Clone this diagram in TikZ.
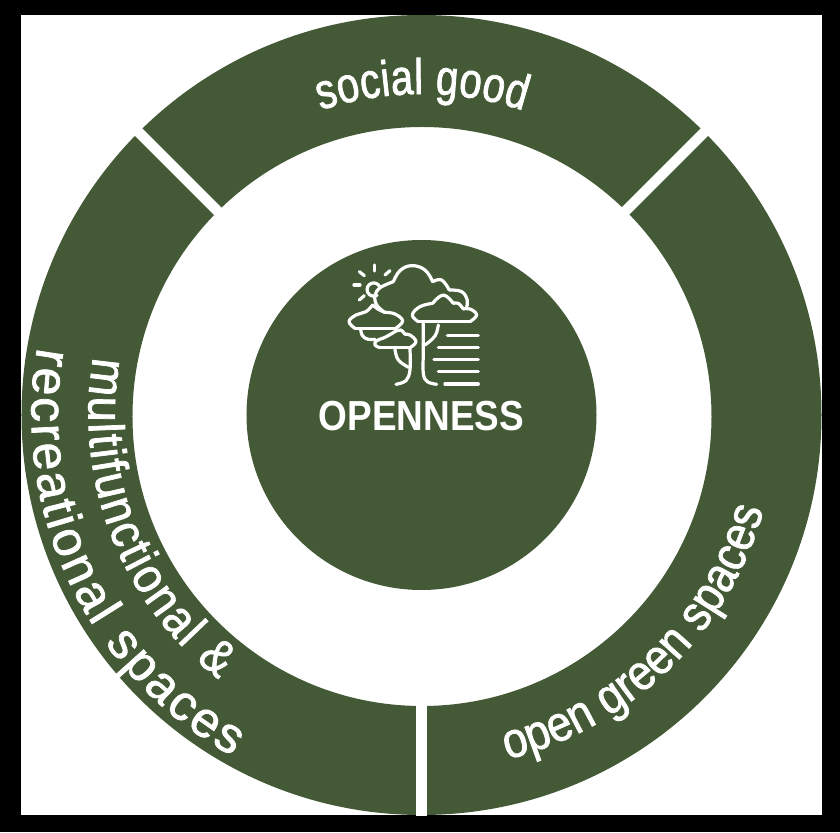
\documentclass[tikz,border=0pt]{standalone}
\usepackage{fontspec}
\usetikzlibrary{decorations.text}
\newfontfamily\dinsoc[FakeStretch=0.80,RawFeature={embolden=1.5}]{Liberation Sans}
\newfontfamily\dinopn[FakeStretch=0.88,RawFeature={embolden=1.5}]{Liberation Sans}
\newfontfamily\dinmul[FakeStretch=0.90,RawFeature={embolden=1.5}]{Liberation Sans}
\newfontfamily\dinrec[FakeStretch=1.00,RawFeature={embolden=1.5}]{Liberation Sans}
\newfontfamily\dinmed[FakeStretch=0.88]{Liberation Sans}
\definecolor{forest}{HTML}{445A36}
\newcommand{\bandtext}[1]{\fontsize{50}{50}\selectfont#1\color{white}}
\tikzset{
  gapline/.style={draw=white,line width=10.5pt},
  icon/.style={draw=white,line width=3.2pt,line cap=round,line join=round},
  curved/.style args={#1}{decorate,decoration={text along path,text align={fit to path},text={#1}}},
}
\begin{document}
\begin{tikzpicture}[x=1pt,y=1pt]
\useasboundingbox (-421.5,415) rectangle (418.5,-417);
\fill[black] (-421.5,415) rectangle (418.5,-417);
\fill[white] (-400.5,400) rectangle (400,-400);
% ring
\fill[forest,even odd rule] (0,0) circle[radius=400] (0.5,-1.5) circle[radius=289.5];
\coordinate (bi) at (-90:285); \coordinate (bo) at (-90:400.5);
\coordinate (li) at (135:285); \coordinate (lo) at (135:400.5);
\coordinate (ri) at (45:285);  \coordinate (ro) at (45:400.5);
\draw[gapline] (bi) -- (bo);
\draw[gapline] (li) -- (lo);
\draw[gapline] (ri) -- (ro);
% centre
\node[circle,fill=forest,minimum size=350pt,inner sep=0pt] (core) at (0,0) {};
\node[text=white,inner sep=0pt,font=\fontsize{42}{42}\selectfont\dinmed\bfseries] (title) at (0,-1) {OPENNESS};
% band labels
\path[curved={|\bandtext{\dinsoc}|social good}] (108.3:321) arc[start angle=108.3,end angle=71.5,radius=321];
\path[curved={|\bandtext{\dinopn}|open green spaces}] (-76:355) arc[start angle=-76,end angle=-15.5,radius=355];
\path[curved={|\bandtext{\dinmul}|multifunctional {\&}}] (170:333) arc[start angle=170,end angle=232.5,radius=333];
\path[curved={|\bandtext{\dinrec}|recreational spaces}] (170:390) arc[start angle=170,end angle=241,radius=390];
% tree icon
\begin{scope}[shift={(-91.5,165)},x=0.3333pt,y=-0.3333pt]
  \draw[icon] (150,112) arc[start angle=-20,end angle=-300,radius=20];
  \draw[icon] (72,105) -- (90,105);
  \draw[icon] (88,150) -- (103,137);
  \draw[icon] (88,65) -- (103,77);
  \draw[icon] (133,45) -- (133,63);
  \draw[icon] (180,62) -- (165,75);
  \draw[icon] plot[smooth,tension=0.6] coordinates {(165,188) (140,165) (135,135) (152,112) (190,95)};
  \draw[icon] plot[smooth,tension=0.7] coordinates {(190,95) (210,62) (245,47) (285,60) (308,95)};
  \draw[icon] plot[smooth,tension=0.7] coordinates {(308,95) (335,90) (358,120)};
  \draw[icon] plot[smooth,tension=0.7] coordinates {(358,120) (395,125) (412,150) (410,170)};
  % right canopy
  \draw[icon] (265,215) -- (420,215);
  \draw[icon] plot[smooth,tension=0.7] coordinates {(420,215) (440,195) (420,177) (400,177)};
  \draw[icon] plot[smooth,tension=0.7] coordinates {(400,177) (385,160) (370,160)};
  \draw[icon] plot[smooth,tension=0.7] coordinates {(370,160) (340,135) (308,160)};
  \draw[icon] plot[smooth,tension=0.7] coordinates {(308,160) (270,170) (247,195) (265,215)};
  \draw[icon] plot[smooth,tension=0.6] coordinates {(280,218) (280,300) (280,370) (292,395) (320,403)};
  \draw[icon] plot[smooth,tension=0.7] coordinates {(325,225) (315,258) (285,285)};
  % left canopy
  \draw[icon] (75,235) -- (197,235);
  \draw[icon] plot[smooth,tension=0.7] coordinates {(197,235) (218,213) (195,192) (165,187)};
  \draw[icon] plot[smooth,tension=0.7] coordinates {(165,187) (145,178) (128,165)};
  \draw[icon] plot[smooth,tension=0.7] coordinates {(128,165) (108,185) (78,195) (57,215) (75,235)};
  \draw[icon] plot[smooth,tension=0.7] coordinates {(92,238) (98,258) (115,268) (135,268)};
  % lower canopy
  \draw[icon] (150,293) -- (240,293);
  \draw[icon] plot[smooth,tension=0.7] coordinates {(240,293) (258,275) (240,255) (225,253)};
  \draw[icon] plot[smooth,tension=0.7] coordinates {(225,253) (212,240) (195,245)};
  \draw[icon] plot[smooth,tension=0.7] coordinates {(195,245) (165,262) (140,272) (135,285) (150,293)};
  \draw[icon] plot[smooth,tension=0.6] coordinates {(240,296) (240,360) (228,392) (198,403)};
  \draw[icon] plot[smooth,tension=0.7] coordinates {(195,298) (205,330) (236,352)};
  % text lines
  \draw[icon] (352,257) -- (445,257);
  \draw[icon] (325,293) -- (445,293);
  \draw[icon] (312,329) -- (445,329);
  \draw[icon] (325,365) -- (445,365);
  \draw[icon] (345,402) -- (445,402);
\end{scope}
\end{tikzpicture}
\end{document}
